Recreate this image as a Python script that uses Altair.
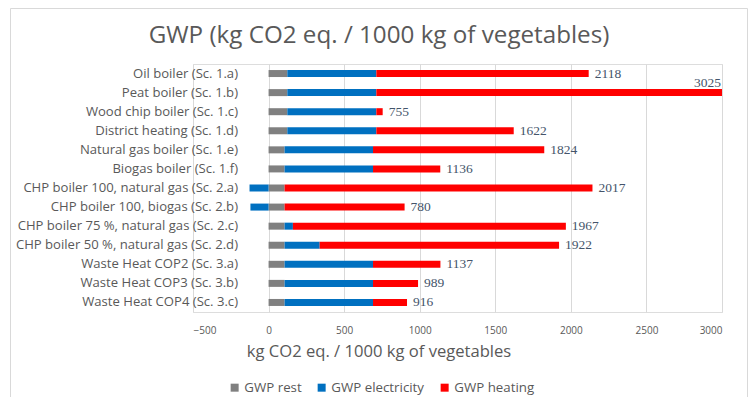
import altair as alt
import pandas as pd

categories = [
    "Oil boiler (Sc. 1.a)",
    "Peat boiler (Sc. 1.b)",
    "Wood chip boiler (Sc. 1.c)",
    "District heating (Sc. 1.d)",
    "Natural gas boiler (Sc. 1.e)",
    "Biogas boiler (Sc. 1.f)",
    "CHP boiler 100, natural gas (Sc. 2.a)",
    "CHP boiler 100, biogas (Sc. 2.b)",
    "CHP boiler 75 %, natural gas (Sc. 2.c)",
    "CHP boiler 50 %, natural gas (Sc. 2.d)",
    "Waste Heat COP2 (Sc. 3.a)",
    "Waste Heat COP3 (Sc. 3.b)",
    "Waste Heat COP4 (Sc. 3.c)",
]
gwp_rest = [124, 124, 124, 124, 106, 106, 106, 106, 106, 106, 106, 106, 106]
gwp_electricity = [589, 589, 589, 589, 585, 585, -126, -120, 55, 232, 585, 585, 585]
gwp_heating = [1405, 2312, 42, 909, 1133, 445, 2037, 794, 1806, 1584, 446, 298, 225]
totals = [2118, 3025, 755, 1622, 1824, 1136, 2017, 780, 1967, 1922, 1137, 989, 916]

series_names = ["GWP rest", "GWP electricity", "GWP heating"]
series_colors = ["#808080", "#0070C0", "#FF0000"]

chart_title = "GWP (kg CO2 eq. / 1000 kg of vegetables)"
x_title = "kg CO2 eq. / 1000 kg of vegetables"

rows = []
for i, c in enumerate(categories):
    for k, (name, vals) in enumerate(zip(series_names, [gwp_rest, gwp_electricity, gwp_heating])):
        rows.append({"category": c, "series": name, "order": k, "value": vals[i]})
bars_df = pd.DataFrame(rows)

lab_rows = []
for i, c in enumerate(categories):
    end = gwp_rest[i] + max(gwp_electricity[i], 0) + gwp_heating[i]
    lab_rows.append({"category": c, "end": end, "total": totals[i]})
labels_df = pd.DataFrame(lab_rows)

FONT = "Open Sans"
GREY = "#595959"
XMIN, XMAX = -500, 3000

xscale = alt.Scale(domain=[XMIN, XMAX], clamp=True, nice=False, zero=False)
yenc = alt.Y(
    "category:N",
    sort=categories,
    title=None,
    scale=alt.Scale(paddingInner=0, paddingOuter=0),
    axis=alt.Axis(
        offset=-75.5,
        labelPadding=31,
        ticks=False,
        domain=False,
        grid=False,
        labelFont=FONT,
        labelFontSize=13.1,
        labelColor=GREY,
        labelLimit=400,
    ),
)

bars = alt.Chart(bars_df).mark_bar(size=7).encode(
    x=alt.X(
        "value:Q",
        stack="zero",
        scale=xscale,
        title=None,
        axis=alt.Axis(
            values=list(range(XMIN, XMAX + 1, 500)),
            format="d",
            grid=True,
            gridColor="#D9D9D9",
            ticks=False,
            domain=False,
            labelFont=FONT,
            labelFontSize=10,
            labelColor=GREY,
            labelPadding=13,
        ),
    ),
    y=yenc,
    color=alt.Color(
        "series:N",
        sort=series_names,
        scale=alt.Scale(domain=series_names, range=series_colors),
        legend=alt.Legend(
            title=None,
            orient="none",
            direction="horizontal",
            legendX=35,
            legendY=317,
            symbolType="square",
            symbolSize=64,
            symbolStrokeWidth=0,
            symbolOpacity=1,
            labelFont=FONT,
            labelFontSize=13.3,
            labelColor=GREY,
            labelOffset=3,
            columnPadding=13,
        ),
    ),
    order=alt.Order("order:Q"),
)

text_normal = alt.Chart(labels_df).transform_filter(
    f"datum.end <= {XMAX}"
).mark_text(
    align="left", baseline="middle", dx=6, font="Liberation Serif", fontSize=13.5, color="#44546A"
).encode(
    x=alt.X("end:Q", scale=xscale),
    y=alt.Y("category:N", sort=categories),
    text=alt.Text("total:Q", format="d"),
)

text_over = alt.Chart(labels_df).transform_filter(
    f"datum.end > {XMAX}"
).mark_text(
    align="right", baseline="middle", dx=-1, dy=-10, font="Liberation Serif", fontSize=13.5, color="#44546A"
).encode(
    x=alt.X("end:Q", scale=xscale),
    y=alt.Y("category:N", sort=categories),
    text=alt.Text("total:Q", format="d"),
)

one_row = pd.DataFrame({"k": [0]})
frame = alt.Chart(one_row).mark_rect(
    fill=None, stroke="#D9D9D9", strokeWidth=1, clip=False
).encode(
    x=alt.value(-182.5),
    x2=alt.value(554.5),
    y=alt.value(-55.5),
    y2=alt.value(345),
)

title_mark = alt.Chart(one_row).mark_text(
    text=chart_title, font=FONT, fontSize=24.2, color=GREY, align="center", baseline="middle"
).encode(x=alt.value(186), y=alt.value(-28))

xtitle_mark = alt.Chart(one_row).mark_text(
    text=x_title, font=FONT, fontSize=16.6, color=GREY, align="center", baseline="middle"
).encode(x=alt.value(186), y=alt.value(288))

chart = alt.layer(frame, bars, text_normal, text_over, title_mark, xtitle_mark).properties(
    width=529,
    height=248,
    autosize=alt.AutoSizeParams(type="none"),
    padding={"left": 185, "top": 56, "right": 26, "bottom": 85},
).configure_view(stroke=None).configure(background="white")

chart.save("out.html", embed_options={"renderer": "svg", "actions": False})
